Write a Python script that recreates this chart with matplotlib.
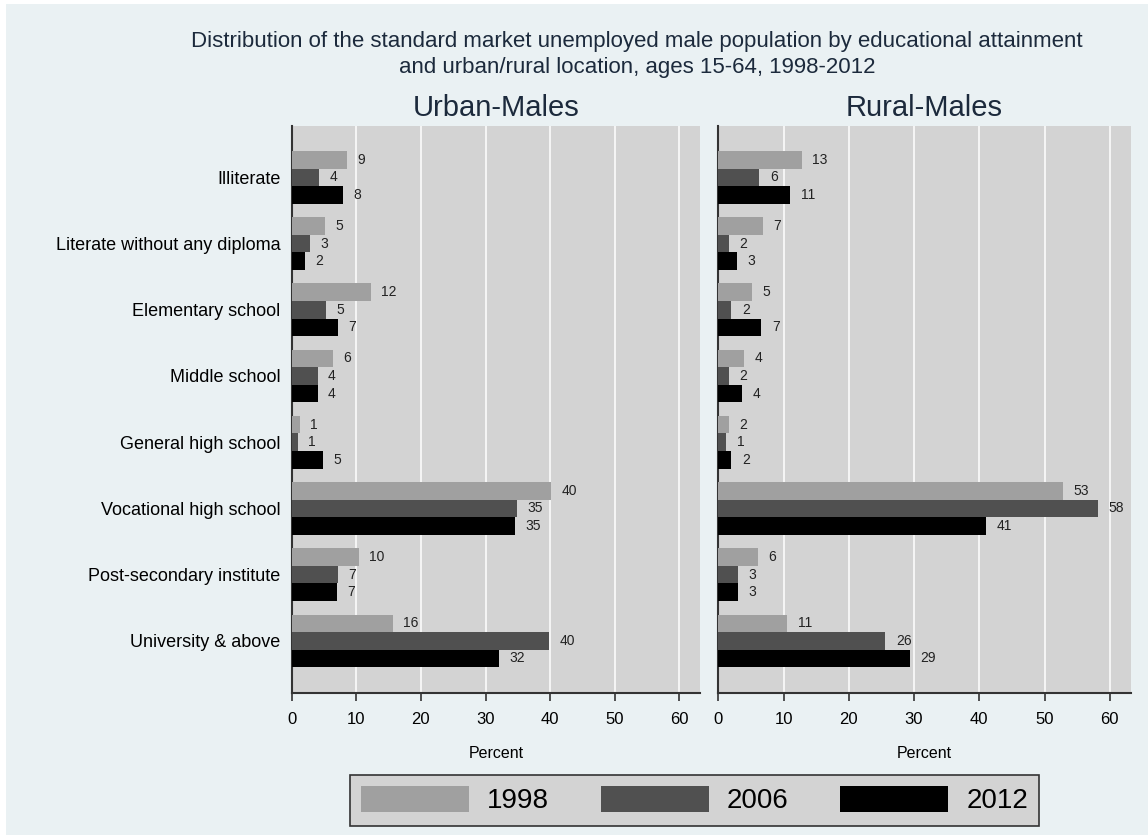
import matplotlib
matplotlib.use("Agg")
import matplotlib.pyplot as plt
from matplotlib.patches import Rectangle, Patch
import numpy as np

plt.rcParams['font.family'] = ['Liberation Sans', 'DejaVu Sans']

categories = ["Illiterate", "Literate without any diploma", "Elementary school",
              "Middle school", "General high school", "Vocational high school",
              "Post-secondary institute", "University & above"]
years = ["1998", "2006", "2012"]

# percent values
urban_1998 = [8.6, 5.1, 12.2, 6.4, 1.3, 40.2, 10.4, 15.7]
urban_2006 = [4.2, 2.9, 5.3, 4.0, 1.0, 34.9, 7.2, 39.9]
urban_2012 = [8.0, 2.1, 7.2, 4.0, 4.9, 34.6, 7.0, 32.1]
rural_1998 = [12.8, 6.8, 5.1, 4.0, 1.6, 52.8, 6.1, 10.6]
rural_2006 = [6.3, 1.6, 2.0, 1.6, 1.2, 58.2, 3.0, 25.6]
rural_2012 = [11.0, 2.9, 6.6, 3.6, 2.0, 41.0, 3.0, 29.4]

colors = ["#a0a0a0", "#505050", "#000000"]
plot_bg = "#d3d3d3"
fig_bg = "#eaf1f3"
W, H = 1148, 835

fig = plt.figure(figsize=(W / 100, H / 100), dpi=100, facecolor="white")
fig.patches.append(Rectangle((6 / W, 0), 1, 1 - 4 / H, transform=fig.transFigure,
                             facecolor=fig_bg, edgecolor="none", zorder=-10))


def panel(left_px, right_px, series, title, show_labels):
    top, bottom = 125.7, 692.5
    ax = fig.add_axes([left_px / W, 1 - bottom / H, (right_px - left_px) / W, (bottom - top) / H])
    ax.set_facecolor(plot_bg)
    y = np.arange(len(categories))
    h = 0.265
    for k, vals in enumerate(series):
        pos = y + (k - 1) * h
        ax.barh(pos, vals, height=h, color=colors[k], edgecolor="none", zorder=3)
        for p, v in zip(pos, vals):
            ax.text(v + 1.6, p, f"{v:.0f}", va="center", ha="left", fontsize=10,
                    color="#222222", zorder=4)
    ax.set_xlim(0, 63.2)
    ax.set_ylim(7.78, -0.78)
    ax.set_xticks(range(0, 61, 10))
    ax.grid(axis="x", color="white", linewidth=1.1, zorder=1)
    ax.set_axisbelow(True)
    ax.set_yticks(y)
    if show_labels:
        ax.set_yticklabels(categories, fontsize=13)
    else:
        ax.set_yticklabels([])
    ax.tick_params(axis="y", length=0, pad=8)
    ax.tick_params(axis="x", length=6, width=1.2, color="#333333", labelsize=12, pad=8)
    for s in ["top", "right"]:
        ax.spines[s].set_visible(False)
    for s in ["left", "bottom"]:
        ax.spines[s].set_color("#333333")
        ax.spines[s].set_linewidth(1.5)
    ax.set_xlabel("Percent", fontsize=11.5, labelpad=14)
    ax.set_title(title, fontsize=21, color="#1c2a3c", pad=7)
    return ax


panel(291.7, 700, [urban_1998, urban_2006, urban_2012], "Urban-Males", True)
panel(718.3, 1130.7, [rural_1998, rural_2006, rural_2012], "Rural-Males", False)

fig.text(637 / W, 1 - 42 / H, "Distribution of the standard market unemployed male population by educational attainment",
         ha="center", va="center", fontsize=16, color="#1c2a3c")
fig.text(637 / W, 1 - 68 / H, "and urban/rural location, ages 15-64, 1998-2012",
         ha="center", va="center", fontsize=16, color="#1c2a3c")

handles = [Patch(facecolor=c, edgecolor="none") for c in colors]
leg = fig.legend(handles, years, loc="center", bbox_to_anchor=(694.5 / W, 1 - 800 / H),
                 ncol=3, fontsize=20, frameon=True, fancybox=False,
                 handlelength=3.9, handleheight=1.1, columnspacing=1.85, handletextpad=0.65,
                 borderpad=0.4)
leg.get_frame().set_facecolor(plot_bg)
leg.get_frame().set_edgecolor("#333333")
leg.get_frame().set_linewidth(1.2)
leg.get_frame().set_alpha(1)

fig.savefig("out.png", dpi=100, facecolor=fig.get_facecolor())
